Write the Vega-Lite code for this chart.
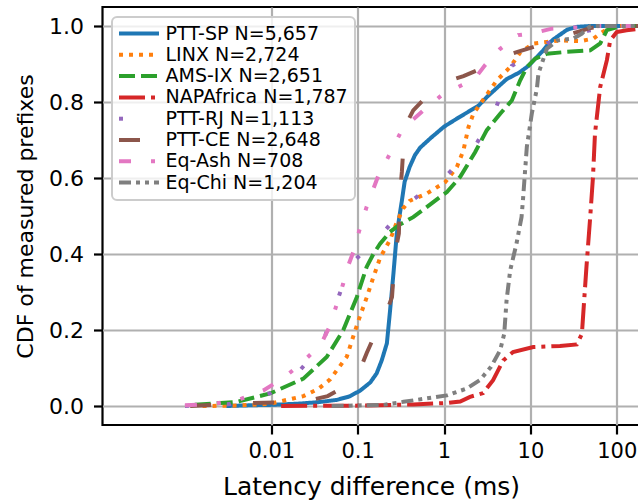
{
"$schema": "https://vega.github.io/schema/vega-lite/v6.json",
"width": 537, "height": 418,
"autosize": {"type": "none"},
"padding": {"left": 102.5, "top": 7, "right": 0, "bottom": 76},
"background": "white",
"config": {"view": {"stroke": "black", "strokeWidth": 2.2}, "font": "DejaVu Sans"},
"data": {"values": [
{"s":"PTT-SP N=5,657","x":0.003,"y":0},{"s":"PTT-SP N=5,657","x":0.006,"y":0.002},{"s":"PTT-SP N=5,657","x":0.01,"y":0.003},{"s":"PTT-SP N=5,657","x":0.02,"y":0.006},{"s":"PTT-SP N=5,657","x":0.035,"y":0.01},{"s":"PTT-SP N=5,657","x":0.057,"y":0.016},{"s":"PTT-SP N=5,657","x":0.08,"y":0.025},{"s":"PTT-SP N=5,657","x":0.106,"y":0.04},{"s":"PTT-SP N=5,657","x":0.14,"y":0.062},{"s":"PTT-SP N=5,657","x":0.166,"y":0.086},{"s":"PTT-SP N=5,657","x":0.19,"y":0.12},{"s":"PTT-SP N=5,657","x":0.218,"y":0.165},{"s":"PTT-SP N=5,657","x":0.237,"y":0.25},{"s":"PTT-SP N=5,657","x":0.26,"y":0.35},{"s":"PTT-SP N=5,657","x":0.284,"y":0.454},{"s":"PTT-SP N=5,657","x":0.305,"y":0.5},{"s":"PTT-SP N=5,657","x":0.325,"y":0.54},{"s":"PTT-SP N=5,657","x":0.35,"y":0.59},{"s":"PTT-SP N=5,657","x":0.4,"y":0.629},{"s":"PTT-SP N=5,657","x":0.46,"y":0.66},{"s":"PTT-SP N=5,657","x":0.53,"y":0.68},{"s":"PTT-SP N=5,657","x":0.7,"y":0.705},{"s":"PTT-SP N=5,657","x":1.0,"y":0.735},{"s":"PTT-SP N=5,657","x":1.5,"y":0.76},{"s":"PTT-SP N=5,657","x":2.5,"y":0.79},{"s":"PTT-SP N=5,657","x":3.2,"y":0.815},{"s":"PTT-SP N=5,657","x":4.0,"y":0.835},{"s":"PTT-SP N=5,657","x":5.3,"y":0.86},{"s":"PTT-SP N=5,657","x":7.5,"y":0.878},{"s":"PTT-SP N=5,657","x":9.5,"y":0.895},{"s":"PTT-SP N=5,657","x":11.5,"y":0.915},{"s":"PTT-SP N=5,657","x":14,"y":0.935},{"s":"PTT-SP N=5,657","x":16,"y":0.952},{"s":"PTT-SP N=5,657","x":18.5,"y":0.965},{"s":"PTT-SP N=5,657","x":22,"y":0.977},{"s":"PTT-SP N=5,657","x":26.5,"y":0.99},{"s":"PTT-SP N=5,657","x":35,"y":0.998},{"s":"PTT-SP N=5,657","x":50,"y":1.0},{"s":"PTT-SP N=5,657","x":200,"y":1.0},

{"s":"LINX N=2,724","x":0.0016,"y":0},{"s":"LINX N=2,724","x":0.004,"y":0.001},{"s":"LINX N=2,724","x":0.0097,"y":0.006},{"s":"LINX N=2,724","x":0.0235,"y":0.026},{"s":"LINX N=2,724","x":0.035,"y":0.045},{"s":"LINX N=2,724","x":0.048,"y":0.07},{"s":"LINX N=2,724","x":0.075,"y":0.13},{"s":"LINX N=2,724","x":0.091,"y":0.19},{"s":"LINX N=2,724","x":0.106,"y":0.235},{"s":"LINX N=2,724","x":0.127,"y":0.285},{"s":"LINX N=2,724","x":0.15,"y":0.335},{"s":"LINX N=2,724","x":0.182,"y":0.39},{"s":"LINX N=2,724","x":0.237,"y":0.437},{"s":"LINX N=2,724","x":0.28,"y":0.48},{"s":"LINX N=2,724","x":0.336,"y":0.52},{"s":"LINX N=2,724","x":0.4,"y":0.54},{"s":"LINX N=2,724","x":0.632,"y":0.559},{"s":"LINX N=2,724","x":1.03,"y":0.589},{"s":"LINX N=2,724","x":1.41,"y":0.629},{"s":"LINX N=2,724","x":1.68,"y":0.673},{"s":"LINX N=2,724","x":1.92,"y":0.734},{"s":"LINX N=2,724","x":2.19,"y":0.769},{"s":"LINX N=2,724","x":2.99,"y":0.813},{"s":"LINX N=2,724","x":4.09,"y":0.857},{"s":"LINX N=2,724","x":5.84,"y":0.892},{"s":"LINX N=2,724","x":7.62,"y":0.93},{"s":"LINX N=2,724","x":10.9,"y":0.954},{"s":"LINX N=2,724","x":15.5,"y":0.958},{"s":"LINX N=2,724","x":22,"y":0.962},{"s":"LINX N=2,724","x":37.7,"y":0.96},{"s":"LINX N=2,724","x":53.8,"y":0.967},{"s":"LINX N=2,724","x":64.4,"y":0.98},{"s":"LINX N=2,724","x":84,"y":0.997},{"s":"LINX N=2,724","x":110,"y":1.0},{"s":"LINX N=2,724","x":200,"y":1.0},

{"s":"AMS-IX N=2,651","x":0.0013,"y":0.003},{"s":"AMS-IX N=2,651","x":0.002,"y":0.006},{"s":"AMS-IX N=2,651","x":0.004,"y":0.011},{"s":"AMS-IX N=2,651","x":0.0097,"y":0.033},{"s":"AMS-IX N=2,651","x":0.0235,"y":0.072},{"s":"AMS-IX N=2,651","x":0.0438,"y":0.129},{"s":"AMS-IX N=2,651","x":0.068,"y":0.199},{"s":"AMS-IX N=2,651","x":0.098,"y":0.287},{"s":"AMS-IX N=2,651","x":0.127,"y":0.366},{"s":"AMS-IX N=2,651","x":0.152,"y":0.4},{"s":"AMS-IX N=2,651","x":0.182,"y":0.427},{"s":"AMS-IX N=2,651","x":0.237,"y":0.458},{"s":"AMS-IX N=2,651","x":0.3,"y":0.476},{"s":"AMS-IX N=2,651","x":0.44,"y":0.497},{"s":"AMS-IX N=2,651","x":0.6,"y":0.52},{"s":"AMS-IX N=2,651","x":0.82,"y":0.543},{"s":"AMS-IX N=2,651","x":1.08,"y":0.563},{"s":"AMS-IX N=2,651","x":1.54,"y":0.603},{"s":"AMS-IX N=2,651","x":2.29,"y":0.668},{"s":"AMS-IX N=2,651","x":3.13,"y":0.726},{"s":"AMS-IX N=2,651","x":4.47,"y":0.769},{"s":"AMS-IX N=2,651","x":6.1,"y":0.804},{"s":"AMS-IX N=2,651","x":7.62,"y":0.857},{"s":"AMS-IX N=2,651","x":9.1,"y":0.892},{"s":"AMS-IX N=2,651","x":11.4,"y":0.914},{"s":"AMS-IX N=2,651","x":15.5,"y":0.927},{"s":"AMS-IX N=2,651","x":26.5,"y":0.932},{"s":"AMS-IX N=2,651","x":49.3,"y":0.936},{"s":"AMS-IX N=2,651","x":64.4,"y":0.954},{"s":"AMS-IX N=2,651","x":76.9,"y":0.989},{"s":"AMS-IX N=2,651","x":100,"y":0.997},{"s":"AMS-IX N=2,651","x":130,"y":1.0},{"s":"AMS-IX N=2,651","x":200,"y":1.0},

{"s":"NAPAfrica N=1,787","x":0.013,"y":0},{"s":"NAPAfrica N=1,787","x":0.106,"y":0.001},{"s":"NAPAfrica N=1,787","x":0.44,"y":0.004},{"s":"NAPAfrica N=1,787","x":1.08,"y":0.008},{"s":"NAPAfrica N=1,787","x":1.54,"y":0.012},{"s":"NAPAfrica N=1,787","x":2.0,"y":0.024},{"s":"NAPAfrica N=1,787","x":2.84,"y":0.034},{"s":"NAPAfrica N=1,787","x":3.7,"y":0.068},{"s":"NAPAfrica N=1,787","x":4.85,"y":0.12},{"s":"NAPAfrica N=1,787","x":6.3,"y":0.142},{"s":"NAPAfrica N=1,787","x":10.8,"y":0.155},{"s":"NAPAfrica N=1,787","x":22,"y":0.158},{"s":"NAPAfrica N=1,787","x":34.5,"y":0.162},{"s":"NAPAfrica N=1,787","x":39.5,"y":0.19},{"s":"NAPAfrica N=1,787","x":44.6,"y":0.366},{"s":"NAPAfrica N=1,787","x":49.3,"y":0.497},{"s":"NAPAfrica N=1,787","x":53,"y":0.6},{"s":"NAPAfrica N=1,787","x":56,"y":0.717},{"s":"NAPAfrica N=1,787","x":64.4,"y":0.84},{"s":"NAPAfrica N=1,787","x":76.9,"y":0.91},{"s":"NAPAfrica N=1,787","x":84,"y":0.962},{"s":"NAPAfrica N=1,787","x":100,"y":0.984},{"s":"NAPAfrica N=1,787","x":130,"y":0.989},{"s":"NAPAfrica N=1,787","x":200,"y":0.994},

{"s":"PTT-RJ N=1,113","x":0.001,"y":0},{"s":"PTT-RJ N=1,113","x":0.0033,"y":0.005},{"s":"PTT-RJ N=1,113","x":0.0097,"y":0.034},{"s":"PTT-RJ N=1,113","x":0.0205,"y":0.089},{"s":"PTT-RJ N=1,113","x":0.0384,"y":0.16},{"s":"PTT-RJ N=1,113","x":0.0558,"y":0.265},{"s":"PTT-RJ N=1,113","x":0.08,"y":0.37},{"s":"PTT-RJ N=1,113","x":0.185,"y":0.449},{"s":"PTT-RJ N=1,113","x":0.4,"y":0.537},{"s":"PTT-RJ N=1,113","x":1.03,"y":0.603},{"s":"PTT-RJ N=1,113","x":2.29,"y":0.683},{"s":"PTT-RJ N=1,113","x":4.0,"y":0.785},{"s":"PTT-RJ N=1,113","x":6.1,"y":0.895},{"s":"PTT-RJ N=1,113","x":15.8,"y":0.955},{"s":"PTT-RJ N=1,113","x":47,"y":0.988},{"s":"PTT-RJ N=1,113","x":100,"y":1.0},{"s":"PTT-RJ N=1,113","x":200,"y":1.0},

{"s":"PTT-CE N=2,648","x":0.00115,"y":0},{"s":"PTT-CE N=2,648","x":0.003,"y":0.004},{"s":"PTT-CE N=2,648","x":0.0062,"y":0.008},{"s":"PTT-CE N=2,648","x":0.015,"y":0.01},{"s":"PTT-CE N=2,648","x":0.028,"y":0.015},{"s":"PTT-CE N=2,648","x":0.045,"y":0.026},{"s":"PTT-CE N=2,648","x":0.07,"y":0.05},{"s":"PTT-CE N=2,648","x":0.106,"y":0.094},{"s":"PTT-CE N=2,648","x":0.127,"y":0.139},{"s":"PTT-CE N=2,648","x":0.16,"y":0.19},{"s":"PTT-CE N=2,648","x":0.21,"y":0.239},{"s":"PTT-CE N=2,648","x":0.25,"y":0.287},{"s":"PTT-CE N=2,648","x":0.27,"y":0.4},{"s":"PTT-CE N=2,648","x":0.3,"y":0.454},{"s":"PTT-CE N=2,648","x":0.31,"y":0.563},{"s":"PTT-CE N=2,648","x":0.325,"y":0.616},{"s":"PTT-CE N=2,648","x":0.35,"y":0.734},{"s":"PTT-CE N=2,648","x":0.44,"y":0.778},{"s":"PTT-CE N=2,648","x":0.6,"y":0.81},{"s":"PTT-CE N=2,648","x":1.03,"y":0.853},{"s":"PTT-CE N=2,648","x":1.68,"y":0.868},{"s":"PTT-CE N=2,648","x":2.5,"y":0.885},{"s":"PTT-CE N=2,648","x":4.47,"y":0.917},{"s":"PTT-CE N=2,648","x":7.1,"y":0.932},{"s":"PTT-CE N=2,648","x":12,"y":0.948},{"s":"PTT-CE N=2,648","x":22,"y":0.971},{"s":"PTT-CE N=2,648","x":34.5,"y":0.984},{"s":"PTT-CE N=2,648","x":50,"y":0.995},{"s":"PTT-CE N=2,648","x":80,"y":1.0},{"s":"PTT-CE N=2,648","x":200,"y":1.0},

{"s":"Eq-Ash N=708","x":0.001,"y":0.002},{"s":"Eq-Ash N=708","x":0.002,"y":0.005},{"s":"Eq-Ash N=708","x":0.004,"y":0.015},{"s":"Eq-Ash N=708","x":0.0081,"y":0.041},{"s":"Eq-Ash N=708","x":0.0138,"y":0.074},{"s":"Eq-Ash N=708","x":0.0215,"y":0.109},{"s":"Eq-Ash N=708","x":0.032,"y":0.147},{"s":"Eq-Ash N=708","x":0.038,"y":0.165},{"s":"Eq-Ash N=708","x":0.048,"y":0.212},{"s":"Eq-Ash N=708","x":0.068,"y":0.322},{"s":"Eq-Ash N=708","x":0.075,"y":0.36},{"s":"Eq-Ash N=708","x":0.089,"y":0.405},{"s":"Eq-Ash N=708","x":0.106,"y":0.467},{"s":"Eq-Ash N=708","x":0.127,"y":0.524},{"s":"Eq-Ash N=708","x":0.14,"y":0.55},{"s":"Eq-Ash N=708","x":0.174,"y":0.607},{"s":"Eq-Ash N=708","x":0.237,"y":0.664},{"s":"Eq-Ash N=708","x":0.31,"y":0.717},{"s":"Eq-Ash N=708","x":0.39,"y":0.744},{"s":"Eq-Ash N=708","x":0.577,"y":0.778},{"s":"Eq-Ash N=708","x":0.94,"y":0.818},{"s":"Eq-Ash N=708","x":1.6,"y":0.844},{"s":"Eq-Ash N=708","x":2.19,"y":0.857},{"s":"Eq-Ash N=708","x":2.99,"y":0.897},{"s":"Eq-Ash N=708","x":4.47,"y":0.94},{"s":"Eq-Ash N=708","x":7.2,"y":0.976},{"s":"Eq-Ash N=708","x":10.4,"y":0.98},{"s":"Eq-Ash N=708","x":17.7,"y":0.993},{"s":"Eq-Ash N=708","x":40,"y":0.997},{"s":"Eq-Ash N=708","x":64,"y":1.0},{"s":"Eq-Ash N=708","x":200,"y":1.0},

{"s":"Eq-Chi N=1,204","x":0.05,"y":0},{"s":"Eq-Chi N=1,204","x":0.2,"y":0.003},{"s":"Eq-Chi N=1,204","x":0.34,"y":0.011},{"s":"Eq-Chi N=1,204","x":0.63,"y":0.02},{"s":"Eq-Chi N=1,204","x":1.08,"y":0.028},{"s":"Eq-Chi N=1,204","x":1.84,"y":0.046},{"s":"Eq-Chi N=1,204","x":2.6,"y":0.068},{"s":"Eq-Chi N=1,204","x":3.5,"y":0.103},{"s":"Eq-Chi N=1,204","x":4.47,"y":0.147},{"s":"Eq-Chi N=1,204","x":4.98,"y":0.19},{"s":"Eq-Chi N=1,204","x":5.3,"y":0.278},{"s":"Eq-Chi N=1,204","x":5.84,"y":0.357},{"s":"Eq-Chi N=1,204","x":6.9,"y":0.427},{"s":"Eq-Chi N=1,204","x":7.9,"y":0.497},{"s":"Eq-Chi N=1,204","x":8.2,"y":0.541},{"s":"Eq-Chi N=1,204","x":9.1,"y":0.682},{"s":"Eq-Chi N=1,204","x":10.4,"y":0.77},{"s":"Eq-Chi N=1,204","x":11.9,"y":0.835},{"s":"Eq-Chi N=1,204","x":12.4,"y":0.875},{"s":"Eq-Chi N=1,204","x":15.5,"y":0.94},{"s":"Eq-Chi N=1,204","x":20.5,"y":0.962},{"s":"Eq-Chi N=1,204","x":31.5,"y":0.967},{"s":"Eq-Chi N=1,204","x":39.5,"y":0.98},{"s":"Eq-Chi N=1,204","x":45,"y":0.993},{"s":"Eq-Chi N=1,204","x":50,"y":1.0},{"s":"Eq-Chi N=1,204","x":200,"y":1.0}
]},
"mark": {"type": "line", "strokeWidth": 4, "strokeCap": "butt", "clip": true},
"encoding": {
"x": {"field": "x", "type": "quantitative",
 "scale": {"type": "log", "domain": [0.000111, 183.5], "nice": false},
 "axis": {"values": [0.01, 0.1, 1, 10, 100], "format": "~g", "grid": true, "gridColor": "#b0b0b0", "gridWidth": 2.2, "domain": false,
  "tickColor": "black", "tickWidth": 2.2, "tickSize": 9, "labelFontSize": 21, "labelColor": "black", "labelPadding": 6, "labelFont": "DejaVu Sans",
  "title": "Latency difference (ms)", "titleFontSize": 25, "titleFontWeight": "normal", "titleColor": "black", "titleFont": "DejaVu Sans", "titleBaseline": "alphabetic", "titleY": 69.3}},
"y": {"field": "y", "type": "quantitative",
 "scale": {"domain": [-0.05, 1.05], "nice": false, "zero": false},
 "axis": {"values": [0, 0.2, 0.4, 0.6, 0.8, 1.0], "format": ".1f", "grid": true, "gridColor": "#b0b0b0", "gridWidth": 2.2, "domain": false,
  "tickColor": "black", "tickWidth": 2.2, "tickSize": 9, "labelFontSize": 22, "labelColor": "black", "labelPadding": 10, "labelFont": "DejaVu Sans",
  "title": "CDF of measured prefixes", "titleFontSize": 22, "titleFontWeight": "normal", "titleColor": "black", "titleFont": "DejaVu Sans", "titleAngle": 270, "titleBaseline": "alphabetic", "titleAlign": "center", "titleX": -70.5, "titleY": 209}},
"color": {"field": "s", "type": "nominal",
 "scale": {"domain": ["PTT-SP N=5,657","LINX N=2,724","AMS-IX N=2,651","NAPAfrica N=1,787","PTT-RJ N=1,113","PTT-CE N=2,648","Eq-Ash N=708","Eq-Chi N=1,204"],
  "range": ["#1f77b4","#ff7f0e","#2ca02c","#d62728","#9467bd","#8c564b","#e377c2","#7f7f7f"]},
 "legend": {"title": null, "orient": "none", "legendX": 9.5, "legendY": 10, "symbolType": "M-2.6667,0H2.6667", "symbolSize": 225, "symbolStrokeWidth": 4, "symbolOffset": 10.5,
  "labelFontSize": 19, "labelColor": "black", "labelFont": "DejaVu Sans", "labelOffset": 17, "rowPadding": 1.3, "padding": 7, "labelLimit": 0,
  "strokeColor": "#cccccc", "fillColor": "rgba(255,255,255,0.8)", "cornerRadius": 5,
  "encode": {"legend": {"update": {"strokeWidth": {"value": 2}}}}}},
"strokeDash": {"field": "s", "type": "nominal",
 "scale": {"domain": ["PTT-SP N=5,657","LINX N=2,724","AMS-IX N=2,651","NAPAfrica N=1,787","PTT-RJ N=1,113","PTT-CE N=2,648","Eq-Ash N=708","Eq-Chi N=1,204"],
  "range": [[1,0],[4,6],[16,6],[26,6,4,6],[4,38],[21,42],[12,20,4,20,4,20],[12,5,4,5,4,5]]}}
}
}
